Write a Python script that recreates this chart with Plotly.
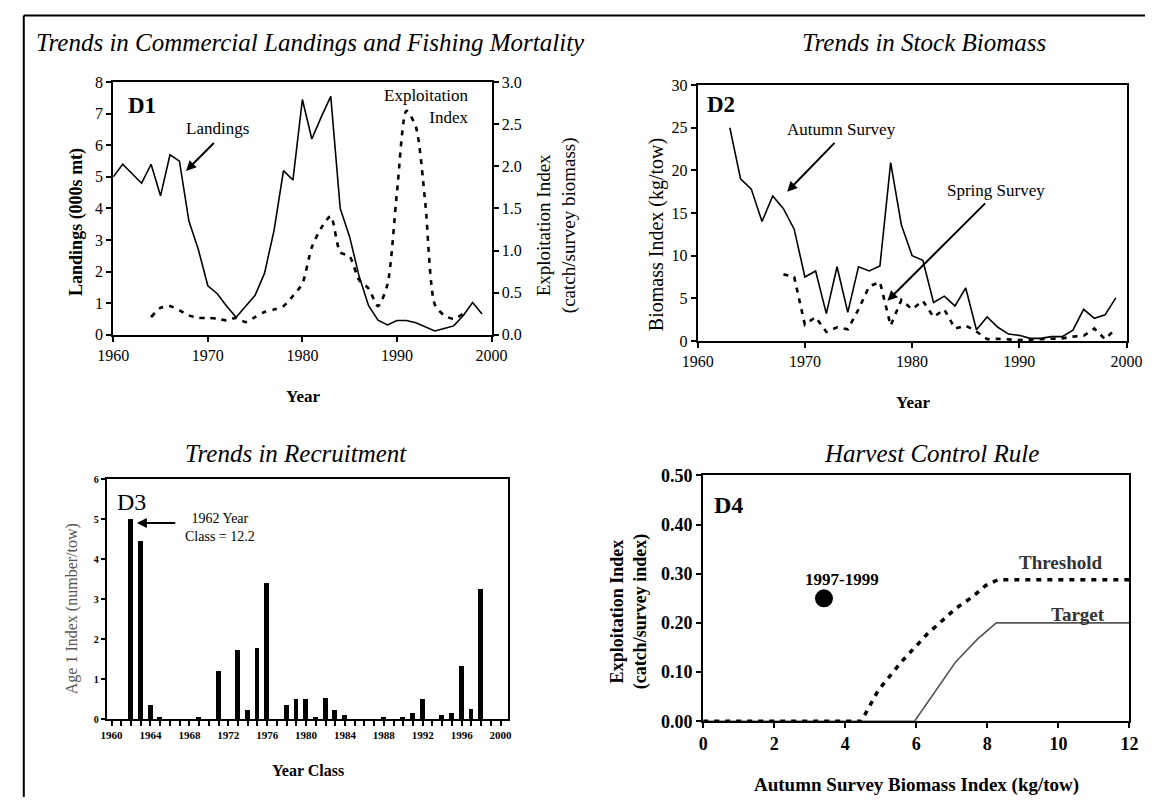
import plotly.graph_objects as go

# ---------------- data ----------------
land_years = list(range(1960, 2000))
landings = [5.0, 5.4, 5.1, 4.8, 5.4, 4.4, 5.7, 5.5, 3.6, 2.7,
            1.55, 1.3, 0.9, 0.55, 0.9, 1.25, 1.95, 3.3, 5.2, 4.9,
            7.45, 6.2, 6.9, 7.55, 4.0, 3.1, 1.85, 0.92, 0.46, 0.31,
            0.45, 0.45, 0.38, 0.25, 0.12, 0.2, 0.28, 0.6, 1.02, 0.66]

expl_years = list(range(1964, 1998))
exploitation = [0.21, 0.32, 0.34, 0.29, 0.23, 0.2, 0.2, 0.19, 0.17, 0.2,
                0.15, 0.21, 0.27, 0.3, 0.34, 0.46, 0.61, 1.04, 1.27, 1.41,
                0.98, 0.93, 0.65, 0.55, 0.34, 0.6, 1.69, 2.66, 2.47, 1.56,
                0.36, 0.23, 0.19, 0.25]

autumn_years = list(range(1963, 2000))
autumn = [25.0, 19.0, 17.8, 14.0, 17.0, 15.5, 13.1, 7.5, 8.2, 3.2,
          8.7, 3.35, 8.7, 8.2, 8.8, 20.9, 13.6, 10.0, 9.45, 4.5,
          5.25, 4.1, 6.2, 1.3, 2.8, 1.6, 0.8, 0.65, 0.3, 0.3,
          0.5, 0.5, 1.25, 3.7, 2.65, 3.05, 5.05]

spring_years = list(range(1968, 2000))
spring = [7.8, 7.5, 1.9, 2.8, 1.05, 1.6, 1.35, 3.7, 6.4, 6.9,
          1.8, 4.8, 3.7, 4.7, 2.8, 3.7, 1.45, 1.8, 1.1, 0.2,
          0.25, 0.2, 0.1, 0.15, 0.2, 0.25, 0.3, 0.5, 0.6, 1.45,
          0.2, 1.45]

recruit_years = list(range(1960, 2001))
recruitment = [0, 0, 5.0, 4.45, 0.36, 0.06, 0, 0, 0, 0.06,
               0, 1.2, 0, 1.72, 0.22, 1.78, 3.39, 0, 0.36, 0.5,
               0.5, 0.06, 0.54, 0.22, 0.11, 0, 0, 0, 0.06, 0,
               0.06, 0.16, 0.5, 0, 0.1, 0.16, 1.33, 0.26, 3.24, 0,
               0]

threshold_x = [0, 4.45, 4.93, 5.57, 6.3, 7.12, 7.58, 7.95, 8.3, 12]
threshold_y = [0, 0, 0.063, 0.12, 0.177, 0.23, 0.253, 0.276, 0.288, 0.288]
target_x = [0, 5.95, 7.1, 7.72, 8.25, 12]
target_y = [0, 0, 0.12, 0.167, 0.2, 0.2]
recent_x = [3.4]
recent_y = [0.25]

# ---------------- helpers ----------------
W, H = 1161, 807
FONT = "Liberation Serif"


def px(x):
    return x / W


def py(y):
    return 1 - y / H


fig = go.Figure()

# D1
fig.add_trace(go.Scatter(x=land_years, y=landings, mode="lines",
                         line=dict(color="black", width=1.6),
                         xaxis="x", yaxis="y"))
fig.add_trace(go.Scatter(x=expl_years, y=exploitation, mode="lines",
                         line=dict(color="black", width=2.6, dash="5px,6px",
                                   shape="spline", smoothing=0.7),
                         xaxis="x", yaxis="y2"))
# D2
fig.add_trace(go.Scatter(x=autumn_years, y=autumn, mode="lines",
                         line=dict(color="black", width=1.6),
                         xaxis="x2", yaxis="y3"))
fig.add_trace(go.Scatter(x=spring_years, y=spring, mode="lines",
                         line=dict(color="black", width=2.6, dash="5px,6px"),
                         xaxis="x2", yaxis="y3"))
# D3
fig.add_trace(go.Bar(x=recruit_years, y=recruitment, width=0.5,
                     marker=dict(color="black", line=dict(width=0)),
                     xaxis="x3", yaxis="y4"))
# D4
fig.add_trace(go.Scatter(x=target_x, y=target_y, mode="lines",
                         line=dict(color="#555555", width=1.6),
                         xaxis="x4", yaxis="y5"))
fig.add_trace(go.Scatter(x=threshold_x, y=threshold_y, mode="lines",
                         line=dict(color="black", width=3.5, dash="5px,6px"),
                         xaxis="x4", yaxis="y5"))
fig.add_trace(go.Scatter(x=recent_x, y=recent_y, mode="markers",
                         marker=dict(color="black", size=18),
                         xaxis="x4", yaxis="y5"))


def ax_style(size=16, bold=False, lw=2):
    return dict(showline=True, linecolor="black", linewidth=lw, mirror=True,
                ticks="outside", ticklen=5, tickwidth=1.5, tickcolor="black",
                showgrid=False, zeroline=False, fixedrange=True,
                tickfont=dict(family=FONT, size=size, color="black",
                              weight="bold" if bold else "normal"))


layout_axes = dict(
    xaxis=dict(domain=[px(100), px(489)], anchor="y", range=[1960, 2000],
               tick0=1960, dtick=10, **ax_style()),
    yaxis=dict(domain=[py(333), py(74)], anchor="x", range=[0, 8], dtick=1,
               **ax_style()),
    yaxis2=dict(overlaying="y", side="right", anchor="x", range=[0, 3],
                dtick=0.5, tickformat=".1f",
                **{**ax_style(), "mirror": False}),
    xaxis2=dict(domain=[px(701), px(1142)], anchor="y3", range=[1960, 2000],
                tick0=1960, dtick=10, **ax_style()),
    yaxis3=dict(domain=[py(339.3), py(77)], anchor="x2", range=[0, 30],
                dtick=5, **ax_style()),
    xaxis3=dict(domain=[px(94), px(505.7)], anchor="y4",
                range=[1959.57, 2000.74], tick0=1960, dtick=4,
                minor=dict(tick0=1960, dtick=1, ticks="outside", ticklen=5,
                           tickwidth=1.5, tickcolor="black"),
                **ax_style(size=11, bold=True, lw=1.5)),
    yaxis4=dict(domain=[py(727.3), py(481)], anchor="x3", range=[0, 6],
                dtick=1, **ax_style(size=10, bold=True, lw=1.5)),
    xaxis4=dict(domain=[px(706.7), px(1145)], anchor="y5", range=[0, 12],
                dtick=2, **ax_style(size=18, bold=True)),
    yaxis5=dict(domain=[py(729.3), py(477.3)], anchor="x4", range=[0, 0.5],
                dtick=0.1, tickformat=".2f",
                **ax_style(size=18, bold=True)),
)

ann = []


def ptext(text, x, y, size, bold=False, italic=False, angle=0, color="black"):
    t = text
    if bold:
        t = "<b>" + t + "</b>"
    if italic:
        t = "<i>" + t + "</i>"
    ann.append(dict(text=t, x=px(x), y=py(y), xref="paper", yref="paper",
                    showarrow=False, textangle=angle, xanchor="center",
                    yanchor="middle",
                    font=dict(family=FONT, size=size, color=color)))


def dtext(text, x, y, xr, yr, size, bold=False, xanchor="center",
          align="center", color="black"):
    t = "<b>" + text + "</b>" if bold else text
    ann.append(dict(text=t, x=x, y=y, xref=xr, yref=yr, showarrow=False,
                    xanchor=xanchor, yanchor="middle", align=align,
                    font=dict(family=FONT, size=size, color=color)))


def arrow(hx, hy, tx, ty, xr, yr):
    ann.append(dict(text="", x=hx, y=hy, ax=tx, ay=ty, xref=xr, yref=yr,
                    axref=xr, ayref=yr, showarrow=True, arrowhead=2,
                    arrowsize=1, arrowwidth=2, arrowcolor="black"))


# panel titles
ptext("Trends in Commercial Landings and Fishing Mortality", 303, 33, 25,
      italic=True)
ptext("Trends in Stock Biomass", 934, 33, 25, italic=True)
ptext("Trends in Recruitment", 288, 455, 25, italic=True)
ptext("Harvest Control Rule", 941, 455, 25, italic=True)

# D1
ptext("Landings (000s mt)", 62, 217, 18, bold=True, angle=-90)
ptext("Exploitation Index<br>(catch/survey biomass)", 556, 221, 19,
      angle=-90)
ptext("Year", 295, 396, 17, bold=True)
dtext("D1", 1963, 7.25, "x", "y", 23, bold=True)
dtext("Landings", 1971.0, 6.52, "x", "y", 17)
arrow(1967.7, 5.19, 1970.8, 6.12, "x", "y")
dtext("Exploitation<br>Index", 1997.8, 2.71, "x", "y2", 17, xanchor="right",
      align="right")

# D2
ptext("Biomass Index (kg/tow)", 658, 230, 20, angle=-90)
ptext("Year", 922, 402, 17, bold=True)
dtext("D2", 1962.2, 27.7, "x2", "y3", 23, bold=True)
dtext("Autumn Survey", 1973.4, 24.85, "x2", "y3", 17)
arrow(1968.35, 17.5, 1972.9, 23.4, "x2", "y3")
dtext("Spring Survey", 1987.8, 17.65, "x2", "y3", 17)
arrow(1977.7, 4.7, 1986.95, 16.3, "x2", "y3")

# D3
ptext("Age 1 Index (number/tow)", 57, 614, 16, angle=-90, color="#555555")
ptext("Year Class", 300, 780, 16, bold=True)
dtext("D3", 1962.0, 5.42, "x3", "y4", 24)
arrow(1962.6, 4.9, 1966.7, 4.9, "x3", "y4")
dtext("1962 Year<br>Class = 12.2", 1971.1, 4.78, "x3", "y4", 14)

# D4
ptext("Exploitation Index<br>(catch/survey index)", 630, 617, 18, bold=True,
      angle=-90)
ptext("Autumn Survey Biomass Index (kg/tow)", 926, 795, 19, bold=True)
dtext("D4", 0.72, 0.439, "x4", "y5", 24, bold=True)
dtext("1997-1999", 3.92, 0.288, "x4", "y5", 17, bold=True)
dtext("Threshold", 10.08, 0.322, "x4", "y5", 19, bold=True, color="#333333")
dtext("Target", 10.55, 0.218, "x4", "y5", 19, bold=True, color="#333333")

shapes = [
    dict(type="line", xref="paper", yref="paper", x0=px(8), x1=px(8),
         y0=py(5.7), y1=0, line=dict(color="black", width=2)),
    dict(type="line", xref="paper", yref="paper", x0=px(8), x1=1,
         y0=py(5.7), y1=py(5.7), line=dict(color="black", width=2)),
]

fig.update_layout(
    width=W, height=H, margin=dict(l=0, r=0, t=0, b=0),
    paper_bgcolor="white", plot_bgcolor="white", showlegend=False,
    font=dict(family=FONT, color="black"),
    annotations=ann, shapes=shapes, bargap=0,
    **layout_axes,
)

fig.write_html("out.html", config={"displayModeBar": False})
